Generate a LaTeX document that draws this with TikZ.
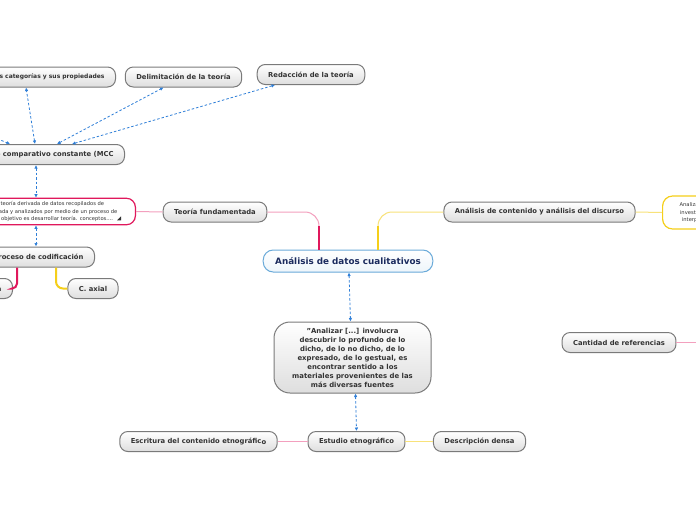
\documentclass[tikz,border=0pt]{standalone}
\usepackage{fontspec}
\setmainfont{DejaVu Sans}
\usepackage{xcolor}
\usetikzlibrary{arrows.meta,positioning,calc}

\definecolor{bordergray}{HTML}{7A7A7A}
\definecolor{textgray}{HTML}{333333}
\definecolor{linkblue}{HTML}{2F7FD8}
\definecolor{crimson}{HTML}{E0185C}
\definecolor{pinklight}{HTML}{F3A0BE}
\definecolor{sun}{HTML}{F5CF1A}
\definecolor{sunlight}{HTML}{F8E27A}
\definecolor{navy}{HTML}{1B2B5E}
\definecolor{mainblue}{HTML}{6AAAD9}

\begin{document}
\begin{tikzpicture}[x=1pt,y=-1pt,
  topic/.style={draw=bordergray,line width=1pt,rounded corners=8pt,
    top color=white,bottom color=black!13,text=textgray,
    font=\fontsize{6.8}{8}\selectfont\bfseries,
    minimum height=20pt,inner xsep=11pt,inner ysep=2pt},
  mainbox/.style={draw=mainblue,line width=1pt,rounded corners=10pt,
    top color=white,bottom color=mainblue!12,text=navy,
    font=\fontsize{8.8}{10}\selectfont\bfseries,
    minimum height=22pt,inner xsep=12pt},
  quotebox/.style={topic,rounded corners=16pt,align=center,
    font=\fontsize{6.9}{9}\selectfont\bfseries,
    minimum width=157pt,minimum height=71pt},
  notebox/.style={draw=#1,line width=1.2pt,rounded corners=10pt,fill=white,
    text=textgray,font=\fontsize{5.2}{7.3}\selectfont},
  link/.style={draw=linkblue,line width=.8pt,dash pattern=on 2.5pt off 2pt,
    {Latex[length=3.5pt,width=3.5pt]}-{Latex[length=3.5pt,width=3.5pt]}},
  trunkpink/.style={draw=crimson,line width=2.8pt},
  branchpink/.style={draw=pinklight,line width=1pt},
  trunksun/.style={draw=sun,line width=2.8pt},
  branchsun/.style={draw=sunlight,line width=1pt}]
\path[use as bounding box,clip] (0,0) rectangle (696,520);
\fill[white] (0,0) rectangle (696,520);

\coordinate (mccizq) at (-14,134);
\coordinate (cantidadfin) at (704,342.5);

% central topic and branches
\node[mainbox] (datos) at (348,261) {Análisis de datos cualitativos};
\node[topic] (teoria) at (215,212) {Teoría fundamentada};
\node[topic] (contenido) at (539.5,212) {Análisis de contenido y análisis del discurso};
\node[notebox=sun,anchor=west,align=center,minimum height=33pt,inner xsep=17pt]
  (analiza) at (662,212.5) {Analiza el contenido de la comunicación,\\
  investigación que busca la descripción e\\ interpretación sistemática del mensaje};
\node[topic] (cantidad) at (619,342.5) {Cantidad de referencias};
\node[quotebox] (quote) at (352.5,357.5) {"Analizar [...] involucra\\
  descubrir lo profundo de lo\\ dicho, de lo no dicho, de lo\\
  expresado, de lo gestual, es\\ encontrar sentido a los\\
  materiales provenientes de las\\ más diversas fuentes};
\node[topic] (estudio) at (356.5,441.5) {Estudio etnográfico};
\node[topic] (escritura) at (198.5,441.5) {Escritura del contenido etnográfic\raisebox{-1.2pt}{o}};
\node[topic] (densa) at (479.5,441.5) {Descripción densa};

% teoria fundamentada side
\node[notebox=crimson,anchor=east,align=left,minimum height=25pt,inner xsep=18pt,
  rounded corners=9pt] (definicion) at (136,211.5)
  {La teoría derivada de datos recopilados de\\
   usada y analizados por medio de un proceso de\\
   Su objetivo es desarrollar teoría. conceptos....};
\fill[textgray] ([xshift=-15,yshift=5]definicion.south east) -- ++(-4,0) -- ++(4,-4) -- cycle;
\node[topic,anchor=east] (mcc) at (125,154.5) {Método comparativo constante (MCC};
\node[topic,anchor=east,font=\fontsize{6}{7}\selectfont\bfseries] (categorias) at (116,77)
  {Integración de las categorías y sus propiedades};
\node[topic] (delimitacion) at (183.5,77) {Delimitación de la teoría};
\node[topic] (redaccion) at (311,74.5) {Redacción de la teoría};
\node[topic,anchor=east] (proceso) at (95,257) {Proceso de codificación};
\node[topic,anchor=east] (abierta) at (13,288.5) {C. abierta};
\node[topic] (axial) at (93,288.5) {C. axial};

% branch lines
\draw[branchpink,rounded corners=14pt] ([xshift=-29]datos.north) |- (teoria.east);
\draw[trunkpink] ([xshift=-29]datos.north) -- ++(0,-24);
\draw[branchsun,rounded corners=14pt] ([xshift=30]datos.north) |- (contenido.west);
\draw[trunksun] ([xshift=30]datos.north) -- ++(0,-24);
\draw[branchpink] (teoria.west) -- (definicion.east);
\draw[branchsun] (contenido.east) -- (analiza.west);
\draw[branchpink] (cantidad.east) -- (cantidadfin);
\draw[branchpink] (estudio.west) -- (escritura.east);
\draw[branchsun] (estudio.east) -- (densa.west);
\draw[trunkpink,line width=2pt,rounded corners=5pt] ([xshift=-78]proceso.south east) |- (abierta.east);
\draw[trunksun,line width=2pt,rounded corners=7pt] ([xshift=-39]proceso.south east) |- (axial.west);

% dashed relations
\draw[link] ([xshift=-90]mcc.north east) -- ([xshift=-90]categorias.south east);
\draw[link] ([xshift=-68]mcc.north east) -- ([xshift=-20]delimitacion.south);
\draw[link] ([xshift=-53]mcc.north east) -- ([xshift=-36]redaccion.south);
\draw[link] (mccizq) -- ([xshift=-115]mcc.north east);
\draw[link] ([xshift=-89]mcc.south east) -- ([xshift=-100]definicion.north east);
\draw[link] ([xshift=-100]definicion.south east) -- ([xshift=-59]proceso.north east);
\draw[link] ([xshift=1]datos.south) -- ([xshift=-2]quote.north);
\draw[link] ([xshift=3]quote.south) -- (estudio.north);
\end{tikzpicture}
\end{document}
